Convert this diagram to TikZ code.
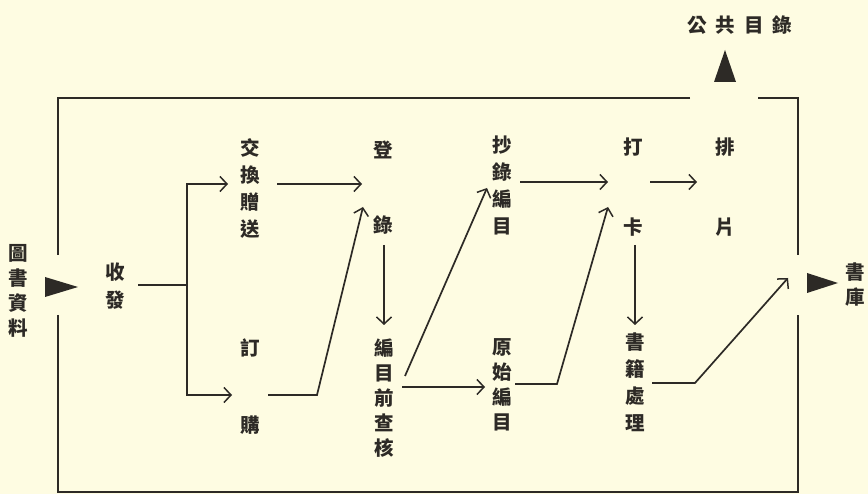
\documentclass[tikz,border=0pt]{standalone}
\usepackage{fontspec}
\newfontfamily\cjk{Noto Sans CJK TC}
\usetikzlibrary{arrows.meta}
\definecolor{paper}{RGB}{254,252,226}
\definecolor{ink}{RGB}{45,42,38}
\begin{document}
\begin{tikzpicture}[x=1pt,y=-1pt,
  ln/.style={draw=ink,line width=1.7pt},
  arr/.style={ln,-{Straight Barb[length=7pt,width=15pt,line width=1.5pt]}},
  lbl/.style={font=\cjk\bfseries\fontsize{19.5}{#1}\selectfont,text=ink,inner sep=0pt,align=center},
  lbl/.default=27]
\fill[paper] (0,0) rectangle (868,494);
\useasboundingbox (0,0) rectangle (868,494);

% frame
\coordinate (ftl) at (58,98);
\coordinate (ftr) at (798,98);
\coordinate (fbl) at (58,492);
\coordinate (fbr) at (798,492);
\draw[ln] (690,98) -- (ftl) -- (58,255);
\draw[ln] (58,315) -- (fbl) -- (fbr) -- (798,315);
\draw[ln] (798,255) -- (ftr) -- (758,98);

% flag triangles
\fill[ink] (45,277) -- (78,287) -- (45,297) -- cycle;
\fill[ink] (807,273) -- (838,283) -- (807,293) -- cycle;
\fill[ink] (714,82) -- (725,50) -- (736,82) -- cycle;

% labels
\node[lbl=25] (tushu) at (18,291) {圖\\書\\資\\料};
\node[lbl] (shou) at (115,272) {收};
\node[lbl] (fa) at (115,300) {發};
\node[lbl] (jiaohuan) at (250,188) {交\\換\\贈\\送};
\node[lbl] (ding) at (250,348) {訂};
\node[lbl] (gou) at (250,425) {購};
\node[lbl] (deng) at (383,150) {登};
\node[lbl] (lu) at (383,225) {錄};
\node[lbl=25] (biancha) at (384,398) {編\\目\\前\\查\\核};
\node[lbl] (chaolu) at (502,185) {抄\\錄\\編\\目};
\node[lbl=25] (yuanshi) at (502,385) {原\\始\\編\\目};
\node[lbl] (da) at (633,147) {打};
\node[lbl] (ka) at (633,227) {卡};
\node[lbl] (pai) at (725,147) {排};
\node[lbl] (pian) at (725,227) {片};
\node[lbl] (shuji) at (635,382) {書\\籍\\處\\理};
\node[lbl=25] (shuku) at (855,285) {書\\庫};
\node[lbl] (gonggong) at (740,25) {公\hspace{9pt}共\hspace{9pt}目\hspace{9pt}錄};

% connectors
\coordinate (j) at (187,285);
\coordinate (jt) at (228,184);
\coordinate (jb) at (232,395);
\draw[ln] (138,285) -- (j);
\draw[arr] (j) |- (jt);
\draw[arr] (j) |- (jb);

\coordinate (dl) at (362,184);
\draw[arr] (277,184) -- (dl);
\coordinate (gk) at (317,395);
\coordinate (dl2) at (363,207);
\draw[arr] (268,395) -- (gk) -- (dl2);

\draw[arr] (384,245) -- (384,325);

\draw[arr] (405,376) -- (487,188);
\draw[arr] (402,387) -- (485,387);

\draw[arr] (520,182) -- (608,182);
\coordinate (yk) at (557,384);
\draw[arr] (515,384) -- (yk) -- (608,207);

\draw[arr] (650,182) -- (697,182);
\draw[arr] (635,245) -- (635,325);

\coordinate (sk) at (695,383);
\draw[arr] (652,383) -- (sk) -- (788,278);
\end{tikzpicture}
\end{document}
